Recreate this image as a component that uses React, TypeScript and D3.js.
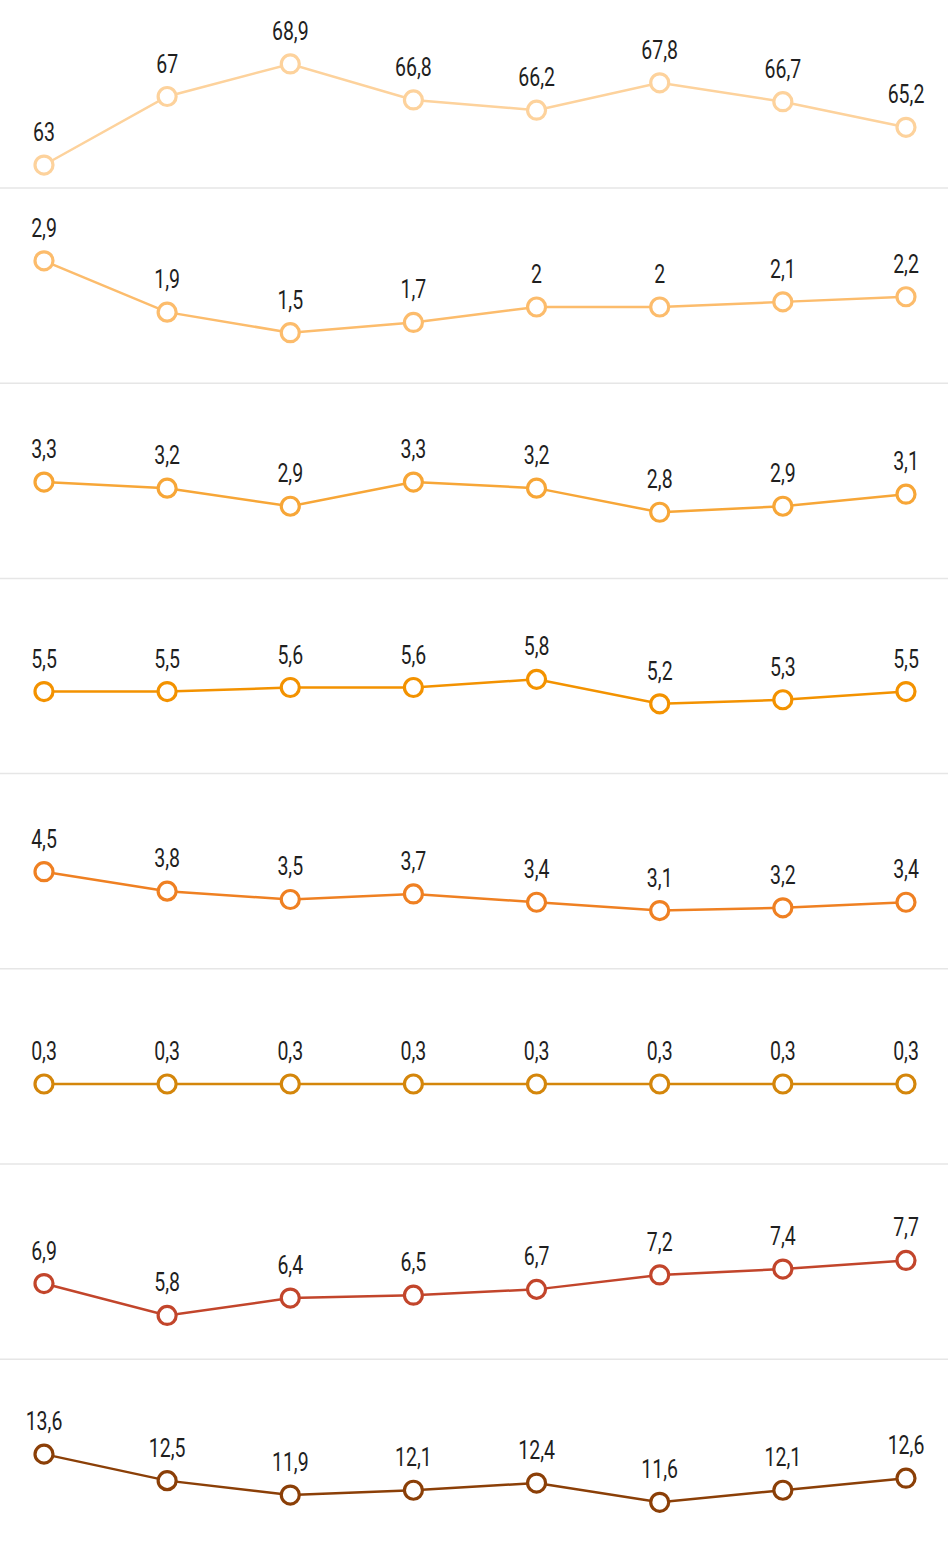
import * as d3 from 'd3';

// eight periods, no axis labels are shown in the chart
const categories = ['p1', 'p2', 'p3', 'p4', 'p5', 'p6', 'p7', 'p8'];

const series1 = [63, 67, 68.9, 66.8, 66.2, 67.8, 66.7, 65.2];
const series2 = [2.9, 1.9, 1.5, 1.7, 2, 2, 2.1, 2.2];
const series3 = [3.3, 3.2, 2.9, 3.3, 3.2, 2.8, 2.9, 3.1];
const series4 = [5.5, 5.5, 5.6, 5.6, 5.8, 5.2, 5.3, 5.5];
const series5 = [4.5, 3.8, 3.5, 3.7, 3.4, 3.1, 3.2, 3.4];
const series6 = [0.3, 0.3, 0.3, 0.3, 0.3, 0.3, 0.3, 0.3];
const series7 = [6.9, 5.8, 6.4, 6.5, 6.7, 7.2, 7.4, 7.7];
const series8 = [13.6, 12.5, 11.9, 12.1, 12.4, 11.6, 12.1, 12.6];

// y domains per panel (each panel has its own scale)
const domains: [number, number][] = [
  [63.13, 70.72],
  [1.006, 3.54],
  [2.121, 4.277],
  [4.108, 7.294],
  [1.913, 6.589],
  [0, 0.712],
  [5.159, 9.648],
  [10.484, 15.88],
];

const colors = ['#fdd29c', '#fcbc6c', '#f7a637', '#f39200', '#ef8022', '#d4860b', '#c2452b', '#8b3f07'];

const allSeries = [series1, series2, series3, series4, series5, series6, series7, series8];

const width = 948;
const height = 1544;
const panelH = 195.2;
const firstTop = -7.2;

const fmt = (v: number) => String(v).replace('.', ',');

export default function App() {
  const x = d3.scalePoint<string>().domain(categories).range([44, 906]);

  return (
    <svg
      width={width}
      height={height}
      style={{ position: 'absolute', left: 0, top: 0, background: '#fff' }}
      fontFamily="Roboto, 'Noto Sans', sans-serif"
    >
      {allSeries.map((vals, i) => {
        const top = firstTop + i * panelH;
        const y = d3.scaleLinear().domain(domains[i]).range([top + 170, top + 40]);
        const pts = vals.map((v, j) => [x(categories[j])!, y(v)] as [number, number]);
        return (
          <g key={i}>
            {i > 0 && (
              <line x1={0} x2={width} y1={top} y2={top} stroke="#e6e6e6" strokeWidth={1.5} />
            )}
            <path
              d={d3.line()(pts) || ''}
              fill="none"
              stroke={colors[i]}
              strokeWidth={2.5}
            />
            {pts.map(([px, py], j) => (
              <g key={j}>
                <circle cx={px} cy={py} r={9} fill="#fff" stroke={colors[i]} strokeWidth={3.2} />
                <text
                  transform={`translate(${px},${py - 24}) scale(0.78,1)`}
                  textAnchor="middle"
                  fontSize={25}
                  fill="#1f1f1f"
                >
                  {fmt(vals[j])}
                </text>
              </g>
            ))}
          </g>
        );
      })}
    </svg>
  );
}
